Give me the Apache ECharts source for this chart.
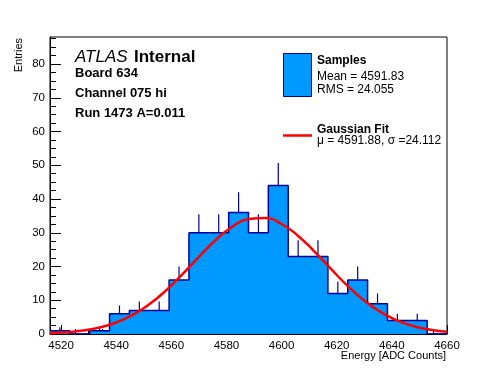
<!DOCTYPE html>
<html>
<head>
<meta charset="utf-8">
<script src="https://cdn.jsdelivr.net/npm/echarts@6/dist/echarts.min.js"></script>
<style>
html,body{margin:0;padding:0;background:#fff;}
#c{width:496px;height:372px;}
</style>
</head>
<body>
<div id="c"></div>
<script>
// ---- data ----
const binLow = 4516;
const binWidth = 7.2;
const counts = [1, 0, 1, 6, 7, 7, 16, 30, 30, 36, 30, 44, 23, 23, 12, 16, 9, 4, 4, 0];
const fitX = [4516, 4522, 4528, 4534, 4540, 4546, 4552, 4558, 4564, 4570, 4576, 4582, 4588,
              4594, 4600, 4606, 4612, 4618, 4624, 4630, 4636, 4642, 4648, 4654, 4660];
const fitY = [0.24, 0.52, 1.03, 1.93, 3.41, 5.64, 8.79, 12.85, 17.68, 22.86, 27.77, 31.72, 34.06,
              34.37, 32.6, 29.06, 24.36, 19.19, 14.21, 9.89, 6.47, 3.98, 2.30, 1.25, 0.64];
const xTickLabels = [4520, 4540, 4560, 4580, 4600, 4620, 4640, 4660];
const xMinorTicks = [4520,4525,4530,4535,4540,4545,4550,4555,4560,4565,4570,4575,4580,4585,4590,4595,
                     4600,4605,4610,4615,4620,4625,4630,4635,4640,4645,4650,4655,4660];
const yTickLabels = [0, 10, 20, 30, 40, 50, 60, 70, 80];
const yMinorTicks = [2.5,5,7.5,12.5,15,17.5,22.5,25,27.5,32.5,35,37.5,42.5,45,47.5,52.5,55,57.5,
                     62.5,65,67.5,72.5,75,77.5,82.5,85,87.5];
const xMin = 4516, xMax = 4660, yMin = 0, yMax = 88;

// ---- build series data ----
const histData = counts.map((c, i) => [binLow + i * binWidth, c]);
histData.push([binLow + counts.length * binWidth, counts[counts.length - 1]]);
const errData = counts.map((c, i) => [binLow + (i + 0.5) * binWidth, c, Math.sqrt(c)]).filter(d => d[1] > 0);
const fitData = fitX.map((x, i) => [x, fitY[i]]);

const FONT = '"Liberation Sans", Arial, Helvetica, sans-serif';
const fillBlue = 'rgb(0,153,255)';
const edgeBlue = '#000099';

const chart = echarts.init(document.getElementById('c'), null, {renderer: 'canvas'});
const lbl = {color: '#000', fontSize: 11.5, fontFamily: FONT, formatter: v => String(v)};

chart.setOption({
  animation: false,
  backgroundColor: '#fff',
  grid: {left: 50, top: 37, width: 397, height: 297, show: true, borderColor: '#000', borderWidth: 1, backgroundColor: 'transparent'},
  xAxis: [
    {type: 'value', min: xMin, max: xMax, position: 'bottom',
     axisLine: {show: true, onZero: false, lineStyle: {color: '#000', width: 1}},
     axisTick: {show: true, inside: true, length: 9, customValues: xTickLabels, lineStyle: {color: '#000'}},
     axisLabel: {show: true, margin: 6, customValues: xTickLabels, ...lbl},
     splitLine: {show: false}},
    {type: 'value', min: xMin, max: xMax, position: 'bottom', offset: 0,
     axisLine: {show: false, onZero: false},
     axisTick: {show: true, inside: true, length: 5, customValues: xMinorTicks, lineStyle: {color: '#000'}},
     axisLabel: {show: false},
     splitLine: {show: false}}
  ],
  yAxis: [
    {type: 'value', min: yMin, max: yMax, position: 'left',
     axisLine: {show: true, onZero: false, lineStyle: {color: '#000', width: 1}},
     axisTick: {show: true, inside: true, length: 11, customValues: yTickLabels, lineStyle: {color: '#000'}},
     axisLabel: {show: true, margin: 5, customValues: yTickLabels, ...lbl},
     splitLine: {show: false}},
    {type: 'value', min: yMin, max: yMax, position: 'left', offset: 0,
     axisLine: {show: false, onZero: false},
     axisTick: {show: true, inside: true, length: 6, customValues: yMinorTicks, lineStyle: {color: '#000'}},
     axisLabel: {show: false},
     splitLine: {show: false}}
  ],
  series: [
    {type: 'line', name: 'Samples', xAxisIndex: 0, yAxisIndex: 0, step: 'end', data: histData,
     symbol: 'none', clip: true, z: 2,
     lineStyle: {color: edgeBlue, width: 1.5},
     areaStyle: {color: fillBlue, opacity: 1}},
    {type: 'custom', name: 'errors', xAxisIndex: 0, yAxisIndex: 0, data: errData, z: 3,
     renderItem: function (params, api) {
       const x = api.value(0), y = api.value(1), e = api.value(2);
       const p0 = api.coord([x, y]);
       const p1 = api.coord([x, y + e]);
       return {type: 'line', shape: {x1: p0[0], y1: p0[1], x2: p1[0], y2: p1[1]},
               style: {stroke: edgeBlue, lineWidth: 1.2}};
     }},
    {type: 'line', name: 'Gaussian Fit', xAxisIndex: 0, yAxisIndex: 0, data: fitData, smooth: true,
     symbol: 'none', clip: true, z: 4,
     lineStyle: {color: '#ff0000', width: 2.5}}
  ],
  graphic: [
    {type: 'text', x: 75, y: 57, style: {text: 'ATLAS', font: 'italic 17px ' + FONT, fill: '#000', verticalAlign: 'middle'}},
    {type: 'text', x: 134, y: 57, style: {text: 'Internal', font: 'bold 17px ' + FONT, fill: '#000', verticalAlign: 'middle'}},
    {type: 'text', x: 75, y: 73, style: {text: 'Board 634', font: 'bold 13px ' + FONT, fill: '#000', verticalAlign: 'middle'}},
    {type: 'text', x: 75, y: 93.5, style: {text: 'Channel 075 hi', font: 'bold 13px ' + FONT, fill: '#000', verticalAlign: 'middle'}},
    {type: 'text', x: 75, y: 113.5, style: {text: 'Run 1473 A=0.011', font: 'bold 13px ' + FONT, fill: '#000', verticalAlign: 'middle'}},
    // legend
    {type: 'rect', shape: {x: 283.5, y: 53.5, width: 28, height: 43}, style: {fill: fillBlue, stroke: edgeBlue, lineWidth: 1}},
    {type: 'text', x: 317, y: 61, style: {text: 'Samples', font: 'bold 12px ' + FONT, fill: '#000', verticalAlign: 'middle'}},
    {type: 'text', x: 317, y: 76.5, style: {text: 'Mean = 4591.83', font: '12px ' + FONT, fill: '#000', verticalAlign: 'middle'}},
    {type: 'text', x: 317, y: 90, style: {text: 'RMS = 24.055', font: '12px ' + FONT, fill: '#000', verticalAlign: 'middle'}},
    {type: 'line', shape: {x1: 283, y1: 135.5, x2: 312, y2: 135.5}, style: {stroke: '#ff0000', lineWidth: 2.5}},
    {type: 'text', x: 317, y: 129.5, style: {text: 'Gaussian Fit', font: 'bold 12px ' + FONT, fill: '#000', verticalAlign: 'middle'}},
    {type: 'text', x: 317, y: 141, style: {text: 'μ = 4591.88, σ =24.112', font: '12px ' + FONT, fill: '#000', verticalAlign: 'middle'}},
    // axis titles
    {type: 'text', x: 446, y: 356, style: {text: 'Energy [ADC Counts]', font: '11px ' + FONT, fill: '#000', align: 'right', verticalAlign: 'middle'}},
    {type: 'text', x: 19, y: 38, rotation: Math.PI / 2, style: {text: 'Entries', font: '11px ' + FONT, fill: '#000', align: 'right', verticalAlign: 'middle'}}
  ]
});
</script>
</body>
</html>
